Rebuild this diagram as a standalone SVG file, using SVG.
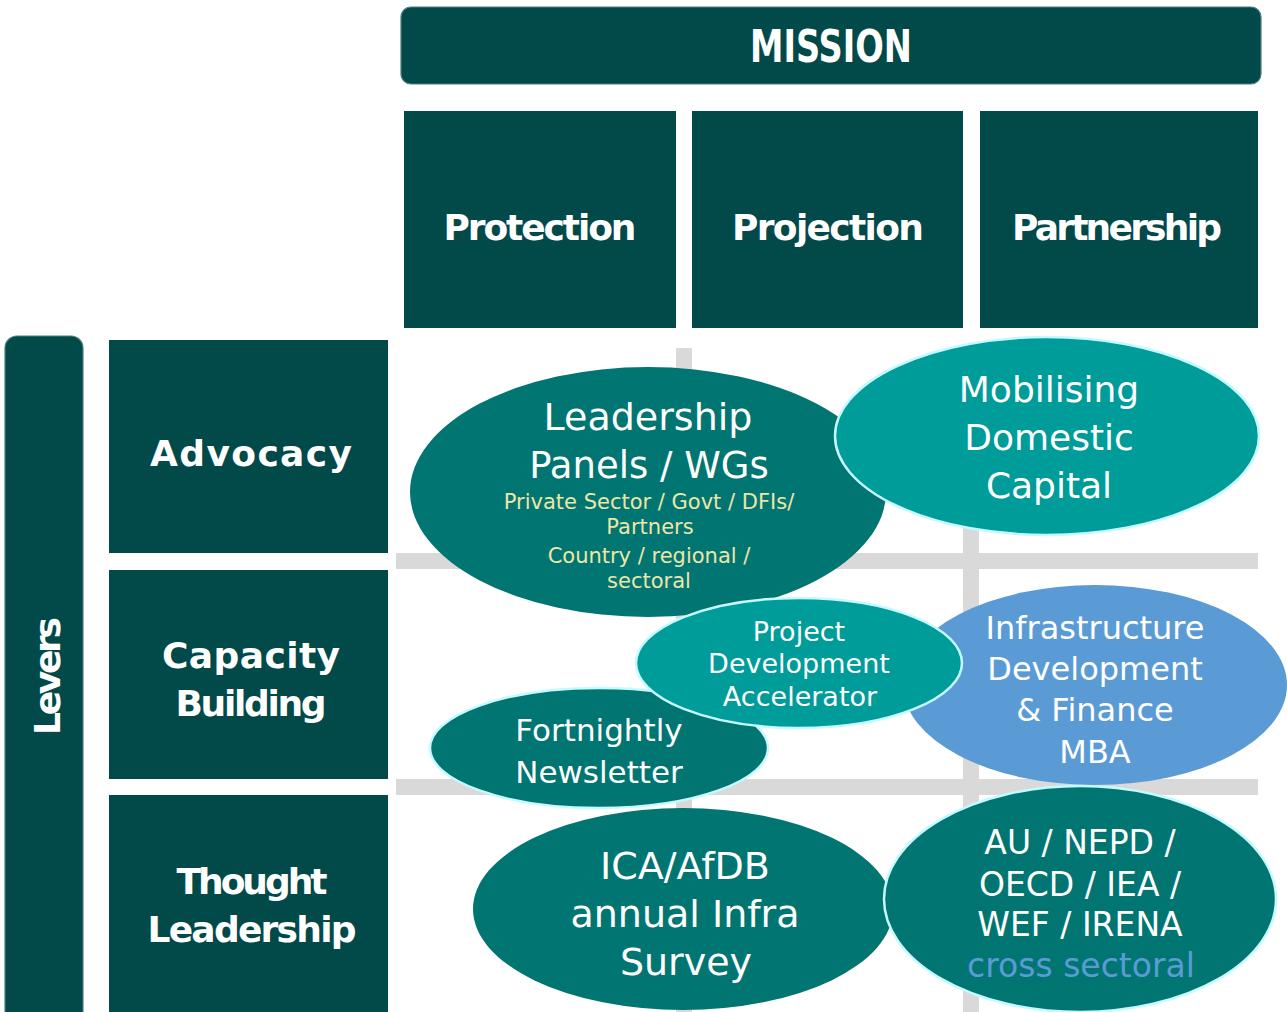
<svg xmlns="http://www.w3.org/2000/svg" width="1287" height="1012" viewBox="0 0 1287 1012">
  <style>
    .dark { fill: #02494A; }
    .bar { fill: #02494A; stroke: #4F7F7E; stroke-width: 1.2; }
    .lbl { font-family: "DejaVu Sans", "Liberation Sans", sans-serif; font-weight: bold; fill: #FFFFFF; text-anchor: middle; }
    .grid { fill: #D9D9D9; }
    .e-dark { fill: #017571; }
    .e-teal { fill: #009C99; }
    .e-blue { fill: #5B9BD5; }
    .rim { stroke: #C4FAFF; stroke-width: 2.5; }
    .t { font-family: "DejaVu Sans", "Liberation Sans", sans-serif; fill: #FFFFFF; text-anchor: middle; }
    .cream { fill: #EDE6A9; }
    .blue-t { fill: #5B9BD5; }
  </style>

  <rect width="1287" height="1012" fill="#FFFFFF"/>

  <!-- mission banner -->
  <g id="mission">
    <rect class="bar" x="401" y="7" width="860" height="77" rx="10"/>
    <text class="lbl" x="831" y="62" font-size="44" textLength="162" lengthAdjust="spacingAndGlyphs">MISSION</text>
  </g>

  <!-- mission pillars -->
  <g id="protection">
    <rect class="dark" x="404" y="111" width="272" height="217"/>
    <text class="lbl" x="540" y="240" font-size="36" textLength="193">Protection</text>
  </g>
  <g id="projection">
    <rect class="dark" x="692" y="111" width="271" height="217"/>
    <text class="lbl" x="828" y="240" font-size="36" textLength="192">Projection</text>
  </g>
  <g id="partnership">
    <rect class="dark" x="980" y="111" width="278" height="217"/>
    <text class="lbl" x="1117" y="240" font-size="36" textLength="210">Partnership</text>
  </g>

  <!-- levers column -->
  <g id="levers">
    <rect class="bar" x="5" y="336" width="78" height="700" rx="12"/>
    <text class="lbl" transform="translate(60 676) rotate(-90)" x="0" y="0" font-size="36" textLength="118">Levers</text>
  </g>
  <g id="advocacy">
    <rect class="dark" x="109" y="340" width="279" height="213"/>
    <text class="lbl" x="251" y="466" font-size="36" textLength="202">Advocacy</text>
  </g>
  <g id="capacity-building">
    <rect class="dark" x="109" y="570" width="279" height="209"/>
    <text class="lbl" x="251" y="668" font-size="36" textLength="178">Capacity</text>
    <text class="lbl" x="251" y="716" font-size="36" textLength="151">Building</text>
  </g>
  <g id="thought-leadership">
    <rect class="dark" x="109" y="795" width="279" height="230"/>
    <text class="lbl" x="252" y="894" font-size="36" textLength="151">Thought</text>
    <text class="lbl" x="252" y="942" font-size="36" textLength="209">Leadership</text>
  </g>

  <!-- matrix grid lines -->
  <g id="connectors">
    <rect class="grid" x="676" y="348" width="16" height="664"/>
    <rect class="grid" x="963" y="348" width="16" height="664"/>
    <rect class="grid" x="396" y="553" width="862" height="16"/>
    <rect class="grid" x="396" y="779" width="862" height="16"/>
  </g>

  <!-- initiatives -->
  <g id="leadership-panels">
    <ellipse class="e-dark" cx="648" cy="492" rx="238" ry="125"/>
    <text class="t" x="648" y="430" font-size="38">Leadership</text>
    <text class="t" x="649" y="478" font-size="37">Panels / WGs</text>
    <text class="t cream" x="649" y="509" font-size="21">Private Sector / Govt / DFIs/</text>
    <text class="t cream" x="650" y="534" font-size="21">Partners</text>
    <text class="t cream" x="649" y="563" font-size="21">Country / regional /</text>
    <text class="t cream" x="649" y="588" font-size="21">sectoral</text>
  </g>

  <g id="mobilising-capital">
    <ellipse class="e-teal rim" cx="1047" cy="436" rx="212" ry="99"/>
    <text class="t" x="1049" y="402" font-size="36">Mobilising</text>
    <text class="t" x="1049" y="450" font-size="36">Domestic</text>
    <text class="t" x="1049" y="498" font-size="36">Capital</text>
  </g>

  <g id="infra-mba">
    <ellipse class="e-blue" cx="1095" cy="685" rx="192" ry="100"/>
    <text class="t" x="1095" y="639" font-size="32">Infrastructure</text>
    <text class="t" x="1095" y="680" font-size="32">Development</text>
    <text class="t" x="1095" y="721" font-size="32">&amp; Finance</text>
    <text class="t" x="1095" y="763" font-size="32">MBA</text>
  </g>

  <g id="newsletter">
    <ellipse class="e-dark rim" cx="599" cy="748" rx="169" ry="60"/>
    <text class="t" x="599" y="741" font-size="31">Fortnightly</text>
    <text class="t" x="599" y="783" font-size="31">Newsletter</text>
  </g>

  <g id="pd-accelerator">
    <ellipse class="e-teal rim" cx="799" cy="663" rx="163" ry="65"/>
    <text class="t" x="799" y="641" font-size="27">Project</text>
    <text class="t" x="799" y="673" font-size="27">Development</text>
    <text class="t" x="800" y="706" font-size="27">Accelerator</text>
  </g>

  <g id="infra-survey">
    <ellipse class="e-dark" cx="683" cy="909" rx="210" ry="101"/>
    <text class="t" x="685" y="879" font-size="38">ICA/AfDB</text>
    <text class="t" x="685" y="927" font-size="38">annual Infra</text>
    <text class="t" x="686" y="975" font-size="38">Survey</text>
  </g>

  <g id="partner-bodies">
    <ellipse class="e-dark rim" cx="1080" cy="899" rx="196" ry="113"/>
    <text class="t" x="1080" y="854" font-size="33">AU / NEPD /</text>
    <text class="t" x="1080" y="896" font-size="33">OECD / IEA /</text>
    <text class="t" x="1080" y="936" font-size="33">WEF / IRENA</text>
    <text class="t blue-t" x="1081" y="977" font-size="33">cross sectoral</text>
  </g>
</svg>
